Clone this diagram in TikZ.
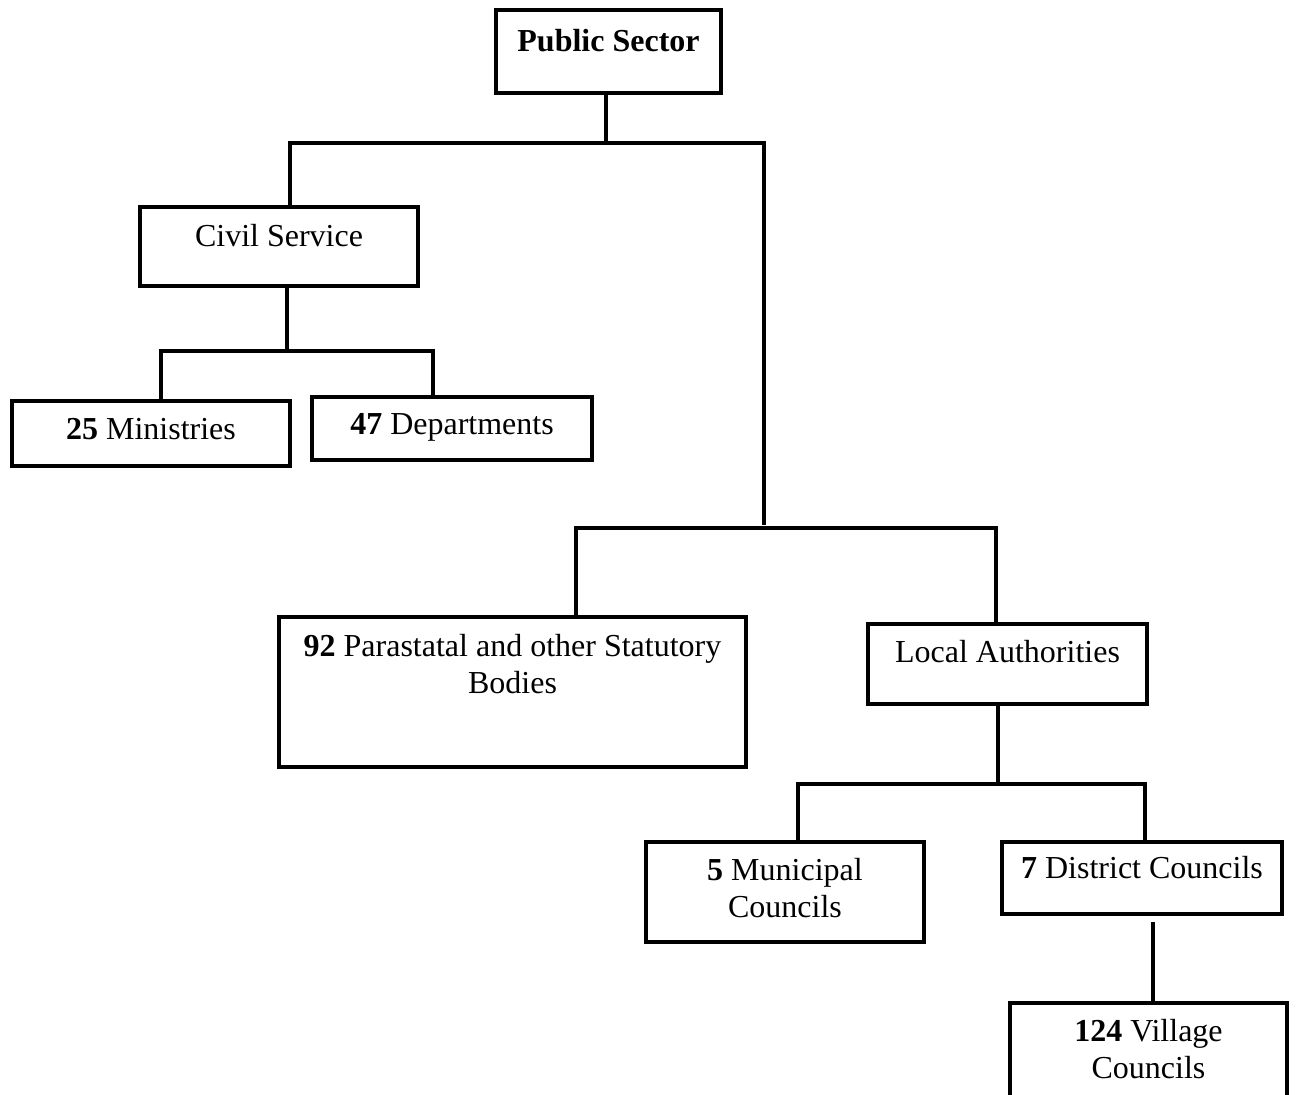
\documentclass[tikz,border=0pt]{standalone}
\usepackage{fontspec}
\setmainfont{Liberation Serif}
\usetikzlibrary{fit}
\begin{document}
\begin{tikzpicture}[x=0.5pt,y=-0.5pt,
  box/.style={draw, line width=2.2pt, rectangle, inner sep=0pt},
  lbl/.style={font=\fontsize{16}{18.5}\selectfont, anchor=base, align=center, inner sep=0pt},
  link/.style={line width=2.2pt}]
\useasboundingbox (0,0) rectangle (1296,1095);
\clip (0,0) rectangle (1296,1095);

% boxes
\node[box, fit={(496,10) (721,93)}]     (ps)  {};
\node[box, fit={(140,207) (418,286)}]   (cs)  {};
\node[box, fit={(12,401) (290,466)}]    (min) {};
\node[box, fit={(312,397) (592,460)}]   (dep) {};
\node[box, fit={(279,617) (746,767)}]   (par) {};
\node[box, fit={(868,624) (1147,704)}]  (loc) {};
\node[box, fit={(646,842) (924,942)}]   (mun) {};
\node[box, fit={(1002,842) (1282,914)}] (dis) {};
\node[box, fit={(1010,1003) (1287,1140)}] (vil) {};

% labels (two-line labels sit on the baseline of their last line)
\node[lbl] (ps-t)  at (608.5,52)  {\textbf{Public Sector}};
\node[lbl] (cs-t)  at (279,247)   {Civil Service};
\node[lbl] (min-t) at (151,440)   {\textbf{25} Ministries};
\node[lbl] (dep-t) at (452,435)   {\textbf{47} Departments};
\node[lbl] (par-t) at (512.5,694) {\textbf{92} Parastatal and other Statutory\\Bodies};
\node[lbl] (loc-t) at (1007.5,663) {Local Authorities};
\node[lbl] (mun-t) at (785,917)   {\textbf{5} Municipal\\Councils};
\node[lbl] (dis-t) at (1142,878)  {\textbf{7} District Councils};
\node[lbl] (vil-t) at (1148.5,1078) {\textbf{124} Village\\Councils};

% junction points of the tree
\coordinate (top-m) at (606,143);
\coordinate (top-l) at (290,143);
\coordinate (top-r) at (764,143);
\coordinate (drop-r) at (764,525);
\coordinate (cs-j) at (287,351);
\coordinate (cs-l) at (161,351);
\coordinate (cs-r) at (433,351);
\coordinate (mid-l) at (576,528);
\coordinate (mid-r) at (996,528);
\coordinate (la-j) at (998,784);
\coordinate (la-l) at (798,784);
\coordinate (la-r) at (1145,784);
\coordinate (dc-top) at (1153,922);

% connectors
\draw[link] (ps.south -| top-m) -- (top-m);
\draw[link] (cs.north -| top-l) -- (top-l) -- (top-r) -- (drop-r);
\draw[link] (cs.south -| cs-j) -- (cs-j);
\draw[link] (min.north -| cs-l) -- (cs-l) -- (cs-r) -- (dep.north -| cs-r);
\draw[link] (par.north -| mid-l) -- (mid-l) -- (mid-r) -- (loc.north -| mid-r);
\draw[link] (loc.south -| la-j) -- (la-j);
\draw[link] (mun.north -| la-l) -- (la-l) -- (la-r) -- (dis.north -| la-r);
\draw[link] (dc-top) -- (vil.north -| dc-top);
\end{tikzpicture}
\end{document}
